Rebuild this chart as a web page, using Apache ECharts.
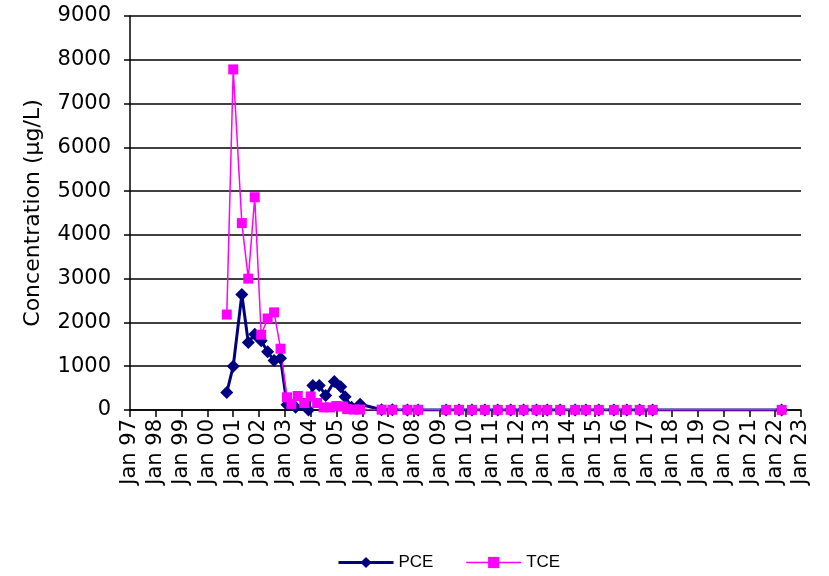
<!DOCTYPE html>
<html>
<head>
<meta charset="utf-8">
<script src="https://cdn.jsdelivr.net/npm/echarts@6/dist/echarts.min.js"></script>
<style>html,body{margin:0;padding:0;background:#fff}#c{width:829px;height:576px}</style>
</head>
<body>
<div id="c"></div>
<script>
// X tick labels (Jan of each year)
const yearTicks = ['97','98','99','00','01','02','03','04','05','06','07','08','09','10','11','12','13','14','15','16','17','18','19','20','21','22','23'];

// PCE sampling dates and concentrations (µg/L)
const pceDates = ['2000-10','2001-01','2001-05','2001-08','2001-11','2002-02','2002-05','2002-08','2002-11',
  '2003-02','2003-06','2003-12','2004-02','2004-05','2004-08','2004-12','2005-03','2005-05','2005-08','2005-12',
  '2006-10','2007-03','2007-10','2008-03','2009-04','2009-10','2010-04','2010-10','2011-04','2011-10',
  '2012-04','2012-10','2013-03','2013-09','2014-04','2014-09','2015-03','2015-10','2016-04','2016-10','2017-04','2022-04'];
const pceValues = [400,1000,2640,1540,1730,1580,1330,1130,1180,
  120,60,0,560,560,330,650,530,300,60,130,
  5,3,2,2,2,1,1,1,1,1,
  1,1,1,1,1,1,1,1,1,1,1,1];

// TCE sampling dates and concentrations (µg/L)
const tceDates = ['2000-10','2001-01','2001-05','2001-08','2001-11','2002-02','2002-05','2002-08','2002-11',
  '2003-02','2003-04','2003-07','2003-10','2004-01','2004-04','2004-07','2004-10','2005-01','2005-04','2005-06','2005-09','2005-12',
  '2006-10','2007-03','2007-10','2008-03','2009-04','2009-10','2010-04','2010-10','2011-04','2011-10',
  '2012-04','2012-10','2013-03','2013-09','2014-04','2014-09','2015-03','2015-10','2016-04','2016-10','2017-04','2022-04'];
const tceValues = [2180,7780,4270,3000,4860,1720,2090,2230,1400,
  290,140,320,160,310,160,60,60,90,80,20,10,10,
  8,6,5,5,4,4,3,3,3,3,
  3,3,3,3,3,3,3,3,3,3,3,3];

function toYear(s){ const p = s.split('-'); return +p[0] + (+p[1]-1)/12; }
function pairs(d, v){ return d.map((s,i)=>[toYear(s), v[i]]); }

const chart = echarts.init(document.getElementById('c'));
const font = 'DejaVu Sans';
chart.setOption({
  animation:false,
  backgroundColor:'#fff',
  grid:{left:130,right:28,top:16,bottom:166,containLabel:false},
  xAxis:{
    type:'value', min:1997, max:2023, interval:1,
    axisLine:{show:true,onZero:false,lineStyle:{color:'#000',width:1.5}},
    axisTick:{show:true,length:7,lineStyle:{color:'#000',width:1.5}},
    splitLine:{show:false},
    axisLabel:{rotate:90,color:'#000',fontFamily:font,fontSize:21,margin:9,
      formatter:function(v){ const i = Math.round(v-1997); return 'Jan ' + yearTicks[i]; }}
  },
  yAxis:{
    type:'value', min:0, max:9000, interval:1000,
    name:'Concentration (µg/L)', nameLocation:'middle', nameGap:86,
    nameTextStyle:{color:'#000',fontFamily:font,fontSize:22},
    axisLine:{show:true,lineStyle:{color:'#000',width:1.5}},
    axisTick:{show:true,length:6,lineStyle:{color:'#000',width:1.5}},
    splitLine:{show:true,lineStyle:{color:'#000',width:1.5}},
    axisLabel:{color:'#000',fontFamily:font,fontSize:21,margin:19,
      formatter:function(v){ return String(v); }}
  },
  legend:{
    top:549, left:332, itemWidth:55, itemHeight:14, itemGap:32,
    textStyle:{color:'#000',fontFamily:'Liberation Sans',fontSize:17},
    data:[
      {name:'PCE', lineStyle:{color:'#000080',width:3}, itemStyle:{color:'#000080'}},
      {name:'TCE', lineStyle:{color:'#FF00FF',width:1.5}, itemStyle:{color:'#FF00FF'}}
    ]
  },
  series:[
    {name:'PCE',type:'line',data:pairs(pceDates,pceValues),
      symbol:'diamond',symbolSize:13,showAllSymbol:true,
      lineStyle:{color:'#000080',width:3},itemStyle:{color:'#000080'}},
    {name:'TCE',type:'line',data:pairs(tceDates,tceValues),
      symbol:'rect',symbolSize:10,showAllSymbol:true,
      lineStyle:{color:'#FF00FF',width:1.5},itemStyle:{color:'#FF00FF'}}
  ]
});
</script>
</body>
</html>
